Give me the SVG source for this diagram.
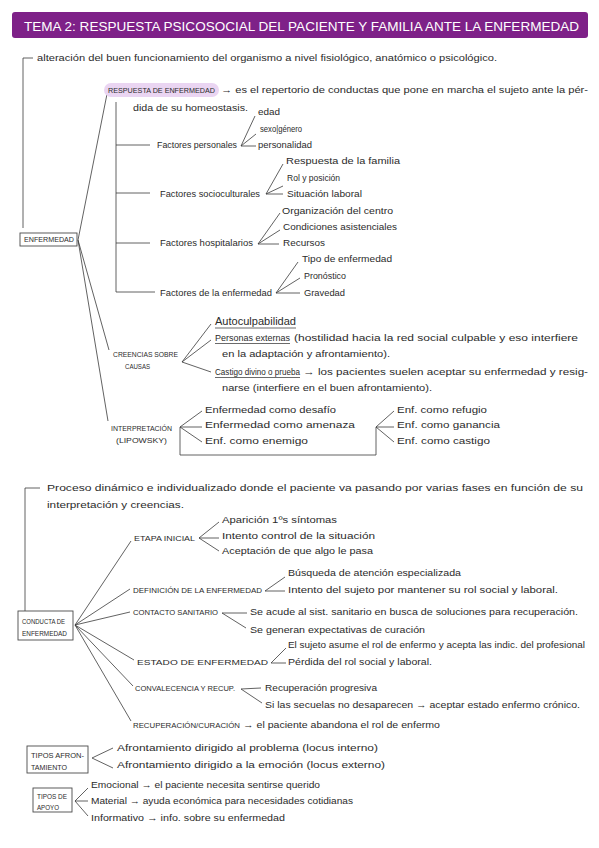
<svg xmlns="http://www.w3.org/2000/svg" width="599" height="848" viewBox="0 0 599 848">
<style>
.t{font-family:"Liberation Sans",Arial,sans-serif;font-size:9px;fill:#2b2b2b}
.c{font-size:7px}
.u{font-size:10px}
.ln{stroke:#3a3a3a;stroke-width:0.8;fill:none}
.box{fill:#fff;stroke:#4a4a4a;stroke-width:0.9}
.ul{stroke:#2b2b2b;stroke-width:0.7}
</style>
<rect width="599" height="848" fill="#fff"/>
<g id="title">
<rect x="12" y="12" width="576" height="26" rx="3" fill="#7e2188"/>
<text x="24" y="31" font-family="Liberation Sans,Arial,sans-serif" font-size="13" fill="#fff" textLength="555" lengthAdjust="spacingAndGlyphs">TEMA 2: RESPUESTA PSICOSOCIAL DEL PACIENTE Y FAMILIA ANTE LA ENFERMEDAD</text>
</g>
<g id="connectors">
<path class="ln" d="M33,58 H23 V228"/>
<path class="ln" d="M78,240 L107,94 M78,240 L109,350 M78,240 L108,421"/>
<path class="ln" d="M116,102 V292 M116,145 H150 M116,193 H150 M116,243 H150 M116,292 H155"/>
<path class="ln" d="M241,146 L255,116 M241,146 L256,134 M241,146 H256"/>
<path class="ln" d="M266,194 L283,164 M266,194 L283,186 M266,194 H283"/>
<path class="ln" d="M258,244 L280,213 M258,244 L280,230 M258,244 H279"/>
<path class="ln" d="M276,293 L298,262 M276,293 L300,278 M276,293 H300"/>
<path class="ln" d="M182,362 L211,324 M182,362 L211,340 M182,362 L211,372"/>
<path class="ln" d="M180,427 L202,411 M180,427 H202 M180,427 L202,442 M180,427 V455 H376 V427 M376,427 L394,411 M376,427 H394 M376,427 L394,442"/>
<path class="ln" d="M40,488 H25 V611"/>
<path class="ln" d="M75,625 L131,541 M75,625 L130,589 M75,625 L130,612 M75,625 L134,660 M75,625 L133,686 M75,625 L131,721"/>
<path class="ln" d="M199,538 L219,522 M199,538 H219 M199,538 L219,551"/>
<path class="ln" d="M265,591 L285,577 M265,591 H285"/>
<path class="ln" d="M222,613 H247 M222,613 L246,628"/>
<path class="ln" d="M271,663 L286,648 M271,663 H286"/>
<path class="ln" d="M241,689 L261,688 M241,689 L262,703"/>
<path class="ln" d="M92,758 L113,748 M92,758 L113,768"/>
<path class="ln" d="M75,801 L88,788 M75,801 H88 M75,801 L88,816"/>
</g>
<g id="enfermedad">
<rect class="box" x="20" y="233" width="57" height="13"/>
<text class="t c" x="24" y="242" textLength="50" lengthAdjust="spacingAndGlyphs">ENFERMEDAD</text>
</g>
<g id="definicion">
<text class="t" x="37" y="61" textLength="460" lengthAdjust="spacingAndGlyphs">alteración del buen funcionamiento del organismo a nivel fisiológico, anatómico o psicológico.</text>
</g>
<g id="respuesta">
<rect x="104" y="83" width="115" height="14" rx="7" fill="#ead5f2"/>
<text class="t c" x="108" y="93" textLength="107" lengthAdjust="spacingAndGlyphs">RESPUESTA DE ENFERMEDAD</text>
<text class="t" x="221" y="93" textLength="367" lengthAdjust="spacingAndGlyphs">→ es el repertorio de conductas que pone en marcha el sujeto ante la pér-</text>
<text class="t" x="133" y="111" textLength="115" lengthAdjust="spacingAndGlyphs">dida de su homeostasis.</text>
</g>
<g id="factores-personales">
<text class="t" x="157" y="148" textLength="80" lengthAdjust="spacingAndGlyphs">Factores personales</text>
<text class="t" x="258" y="115" textLength="22" lengthAdjust="spacingAndGlyphs">edad</text>
<text class="t" x="260" y="132" textLength="42" lengthAdjust="spacingAndGlyphs">sexo|género</text>
<text class="t" x="258" y="148" textLength="54" lengthAdjust="spacingAndGlyphs">personalidad</text>
</g>
<g id="factores-socioculturales">
<text class="t" x="160" y="197" textLength="100" lengthAdjust="spacingAndGlyphs">Factores socioculturales</text>
<text class="t" x="286" y="164" textLength="114" lengthAdjust="spacingAndGlyphs">Respuesta de la familia</text>
<text class="t" x="287" y="181" textLength="53" lengthAdjust="spacingAndGlyphs">Rol y posición</text>
<text class="t" x="287" y="197" textLength="75" lengthAdjust="spacingAndGlyphs">Situación laboral</text>
</g>
<g id="factores-hospitalarios">
<text class="t" x="160" y="246" textLength="93" lengthAdjust="spacingAndGlyphs">Factores hospitalarios</text>
<text class="t" x="282" y="214" textLength="111" lengthAdjust="spacingAndGlyphs">Organización del centro</text>
<text class="t" x="283" y="230" textLength="114" lengthAdjust="spacingAndGlyphs">Condiciones asistenciales</text>
<text class="t" x="283" y="246" textLength="42" lengthAdjust="spacingAndGlyphs">Recursos</text>
</g>
<g id="factores-enfermedad">
<text class="t" x="160" y="296" textLength="112" lengthAdjust="spacingAndGlyphs">Factores de la enfermedad</text>
<text class="t" x="302" y="262" textLength="90" lengthAdjust="spacingAndGlyphs">Tipo de enfermedad</text>
<text class="t" x="304" y="279" textLength="42" lengthAdjust="spacingAndGlyphs">Pronóstico</text>
<text class="t" x="304" y="296" textLength="41" lengthAdjust="spacingAndGlyphs">Gravedad</text>
</g>
<g id="creencias">
<text class="t c" x="113" y="357" textLength="65" lengthAdjust="spacingAndGlyphs">CREENCIAS SOBRE</text>
<text class="t c" x="125" y="369" textLength="25" lengthAdjust="spacingAndGlyphs">CAUSAS</text>
<text class="t u" x="215" y="325" textLength="81" lengthAdjust="spacingAndGlyphs">Autoculpabilidad</text>
<line class="ul" x1="215" y1="328" x2="296" y2="328"/>
<text class="t" x="215" y="341" textLength="75" lengthAdjust="spacingAndGlyphs">Personas externas</text>
<line class="ul" x1="215" y1="343.5" x2="290" y2="343.5"/>
<text class="t" x="294" y="341" textLength="284" lengthAdjust="spacingAndGlyphs">(hostilidad hacia la red social culpable y eso interfiere</text>
<text class="t" x="222" y="357" textLength="168" lengthAdjust="spacingAndGlyphs">en la adaptación y afrontamiento).</text>
<text class="t" x="215" y="375" textLength="85" lengthAdjust="spacingAndGlyphs">Castigo divino o prueba</text>
<line class="ul" x1="215" y1="377.5" x2="300" y2="377.5"/>
<text class="t" x="303" y="375" textLength="285" lengthAdjust="spacingAndGlyphs">→ los pacientes suelen aceptar su enfermedad y resig-</text>
<text class="t" x="222" y="391" textLength="210" lengthAdjust="spacingAndGlyphs">narse (interfiere en el buen afrontamiento).</text>
</g>
<g id="interpretacion">
<text class="t c" x="111" y="431" textLength="61" lengthAdjust="spacingAndGlyphs">INTERPRETACIÓN</text>
<text class="t c" x="116" y="443" textLength="51" lengthAdjust="spacingAndGlyphs">(LIPOWSKY)</text>
<text class="t" x="205" y="413" textLength="131" lengthAdjust="spacingAndGlyphs">Enfermedad como desafío</text>
<text class="t" x="205" y="428" textLength="150" lengthAdjust="spacingAndGlyphs">Enfermedad como amenaza</text>
<text class="t" x="205" y="444" textLength="103" lengthAdjust="spacingAndGlyphs">Enf. como enemigo</text>
<text class="t" x="397" y="413" textLength="90" lengthAdjust="spacingAndGlyphs">Enf. como refugio</text>
<text class="t" x="397" y="428" textLength="103" lengthAdjust="spacingAndGlyphs">Enf. como ganancia</text>
<text class="t" x="397" y="444" textLength="93" lengthAdjust="spacingAndGlyphs">Enf. como castigo</text>
</g>
<g id="proceso">
<text class="t" x="47" y="491" textLength="536" lengthAdjust="spacingAndGlyphs">Proceso dinámico e individualizado donde el paciente va pasando por varias fases en función de su</text>
<text class="t" x="47" y="508" textLength="137" lengthAdjust="spacingAndGlyphs">interpretación y creencias.</text>
</g>
<g id="conducta">
<rect class="box" x="18" y="611" width="55" height="29"/>
<text class="t c" x="22" y="624" textLength="43" lengthAdjust="spacingAndGlyphs">CONDUCTA DE</text>
<text class="t c" x="22" y="636" textLength="45" lengthAdjust="spacingAndGlyphs">ENFERMEDAD</text>
</g>
<g id="etapa-inicial">
<text class="t c" x="134" y="541" textLength="61" lengthAdjust="spacingAndGlyphs">ETAPA INICIAL</text>
<text class="t" x="222" y="523" textLength="115" lengthAdjust="spacingAndGlyphs">Aparición 1ºs síntomas</text>
<text class="t" x="222" y="539" textLength="153" lengthAdjust="spacingAndGlyphs">Intento control de la situación</text>
<text class="t" x="222" y="554" textLength="151" lengthAdjust="spacingAndGlyphs">Aceptación de que algo le pasa</text>
</g>
<g id="definicion-enfermedad">
<text class="t c" x="133" y="593" textLength="129" lengthAdjust="spacingAndGlyphs">DEFINICIÓN DE LA ENFERMEDAD</text>
<text class="t" x="288" y="576" textLength="173" lengthAdjust="spacingAndGlyphs">Búsqueda de atención especializada</text>
<text class="t" x="288" y="593" textLength="270" lengthAdjust="spacingAndGlyphs">Intento del sujeto por mantener su rol social y laboral.</text>
</g>
<g id="contacto-sanitario">
<text class="t c" x="133" y="615" textLength="85" lengthAdjust="spacingAndGlyphs">CONTACTO SANITARIO</text>
<text class="t" x="250" y="615" textLength="328" lengthAdjust="spacingAndGlyphs">Se acude al sist. sanitario en busca de soluciones para recuperación.</text>
<text class="t" x="250" y="633" textLength="175" lengthAdjust="spacingAndGlyphs">Se generan expectativas de curación</text>
</g>
<g id="estado-enfermedad">
<text class="t c" x="137" y="665" textLength="131" lengthAdjust="spacingAndGlyphs">ESTADO DE ENFERMEDAD</text>
<text class="t" x="288" y="648" textLength="297" lengthAdjust="spacingAndGlyphs">El sujeto asume el rol de enfermo y acepta las indic. del profesional</text>
<text class="t" x="288" y="665" textLength="144" lengthAdjust="spacingAndGlyphs">Pérdida del rol social y laboral.</text>
</g>
<g id="convalecencia">
<text class="t c" x="135" y="691" textLength="100" lengthAdjust="spacingAndGlyphs">CONVALECENCIA Y RECUP.</text>
<text class="t" x="265" y="691" textLength="112" lengthAdjust="spacingAndGlyphs">Recuperación progresiva</text>
<text class="t" x="265" y="708" textLength="315" lengthAdjust="spacingAndGlyphs">Si las secuelas no desaparecen → aceptar estado enfermo crónico.</text>
</g>
<g id="recuperacion">
<text class="t c" x="133" y="728" textLength="107" lengthAdjust="spacingAndGlyphs">RECUPERACIÓN/CURACIÓN</text>
<text class="t" x="243" y="728" textLength="197" lengthAdjust="spacingAndGlyphs">→ el paciente abandona el rol de enfermo</text>
</g>
<g id="tipos-afrontamiento">
<rect class="box" x="27" y="746" width="61" height="27"/>
<text class="t c" x="31" y="758" textLength="53" lengthAdjust="spacingAndGlyphs">TIPOS AFRON-</text>
<text class="t c" x="31" y="770" textLength="36" lengthAdjust="spacingAndGlyphs">TAMIENTO</text>
<text class="t" x="117" y="751" textLength="261" lengthAdjust="spacingAndGlyphs">Afrontamiento dirigido al problema (locus interno)</text>
<text class="t" x="117" y="768" textLength="268" lengthAdjust="spacingAndGlyphs">Afrontamiento dirigido a la emoción (locus externo)</text>
</g>
<g id="tipos-apoyo">
<rect class="box" x="33" y="788" width="39" height="24"/>
<text class="t c" x="37" y="799" textLength="30" lengthAdjust="spacingAndGlyphs">TIPOS DE</text>
<text class="t c" x="37" y="810" textLength="22" lengthAdjust="spacingAndGlyphs">APOYO</text>
<text class="t" x="91" y="788" textLength="229" lengthAdjust="spacingAndGlyphs">Emocional → el paciente necesita sentirse querido</text>
<text class="t" x="91" y="804" textLength="262" lengthAdjust="spacingAndGlyphs">Material → ayuda económica para necesidades cotidianas</text>
<text class="t" x="91" y="821" textLength="194" lengthAdjust="spacingAndGlyphs">Informativo → info. sobre su enfermedad</text>
</g>
</svg>
